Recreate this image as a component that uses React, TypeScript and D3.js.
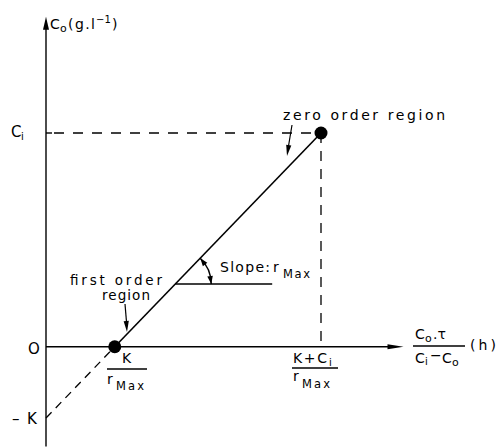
import React from 'react';
import * as d3 from 'd3';

// Schematic values (units: K = 1)
const K = 1;
const Ci = 3;
const rMax = 1;
const pointX = [K / rMax, (K + Ci) / rMax]; // first-order point, zero-order point
const pointY = [0, Ci];
const extrapX = [0, K / rMax];
const extrapY = [-K, 0];
const xAxisEnd = 5.2;
const yAxisTop = 4.63;
const yAxisBottom = -1.4;
const slopeRefY = 0.88;
const slopeRefXEnd = 3.29;

const W = 500;
const H = 447;
const FONT = 'DejaVu Sans, sans-serif';

const x = d3.scaleLinear().domain([0, 4]).range([46, 321]);
const y = d3.scaleLinear().domain([-1, 3]).range([418, 133]);

function arrowHead(tx: number, ty: number, angle: number, len = 11, half = 3.2) {
  const bx = tx - len * Math.cos(angle);
  const by = ty - len * Math.sin(angle);
  const px = -Math.sin(angle) * half;
  const py = Math.cos(angle) * half;
  return `M${tx},${ty}L${bx + px},${by + py}L${bx - px},${by - py}Z`;
}

export default function App() {
  const line = d3.line<[number, number]>().x((d) => x(d[0])).y((d) => y(d[1]));
  const solid: [number, number][] = pointX.map((v, i) => [v, pointY[i]]);
  const dashed: [number, number][] = extrapX.map((v, i) => [v, extrapY[i]]);

  const x0 = x(0);
  const y0 = y(0);
  const xEnd = x(xAxisEnd);
  const yTop = y(yAxisTop);

  const slopeX0 = x(pointX[0] + slopeRefY * (pointX[1] - pointX[0]) / (pointY[1] - pointY[0]));
  const slopeY = y(slopeRefY);
  const angleLine = Math.atan2(y(pointY[1]) - y(pointY[0]), x(pointX[1]) - x(pointX[0]));
  const R = 36;
  const a1 = angleLine;
  const arcStart: [number, number] = [slopeX0 + R * Math.cos(a1), slopeY + R * Math.sin(a1)];
  const arcEnd: [number, number] = [slopeX0 + R, slopeY];
  const arcPath = `M${arcStart[0]},${arcStart[1]}A${R},${R} 0 0 1 ${arcEnd[0]},${arcEnd[1]}`;

  const stroke = '#000';
  const fs = 14;

  return (
    <svg
      width={W}
      height={H}
      viewBox={`0 0 ${W} ${H}`}
      style={{ position: 'absolute', left: 0, top: 0, background: '#fff' }}
      fontFamily={FONT}
    >
      <rect x={0} y={0} width={W} height={H} fill="#fff" />
      {/* Axes */}
      <line x1={x0} y1={y(yAxisBottom)} x2={x0} y2={yTop + 8} stroke={stroke} strokeWidth={1.4} />
      <path d={arrowHead(x0, yTop, -Math.PI / 2, 13, 3)} fill={stroke} />
      <line x1={x0} y1={y0} x2={xEnd - 8} y2={y0} stroke={stroke} strokeWidth={1.4} />
      <path d={arrowHead(xEnd, y0, 0, 16, 2.6)} fill={stroke} />

      {/* Ci guide lines */}
      <line x1={x0} y1={y(Ci)} x2={x0 + 6} y2={y(Ci)} stroke={stroke} strokeWidth={1.4} />
      <line x1={x0 + 8} y1={y(Ci)} x2={x(pointX[1])} y2={y(Ci)} stroke={stroke} strokeWidth={1.3} strokeDasharray="10,9" />
      <line x1={x(pointX[1])} y1={y(Ci)} x2={x(pointX[1])} y2={y0} stroke={stroke} strokeWidth={1.3} strokeDasharray="10,8" />

      {/* Lines */}
      <path d={line(dashed) || ''} fill="none" stroke={stroke} strokeWidth={1.3} strokeDasharray="8,6" />
      <path d={line(solid) || ''} fill="none" stroke={stroke} strokeWidth={1.6} />

      {/* Points */}
      {solid.map((d, i) => (
        <circle key={i} cx={x(d[0])} cy={y(d[1])} r={6.5} fill={stroke} />
      ))}

      {/* Slope annotation */}
      <line x1={slopeX0} y1={slopeY} x2={x(slopeRefXEnd)} y2={slopeY} stroke={stroke} strokeWidth={1.4} />
      <path d={arcPath} fill="none" stroke={stroke} strokeWidth={1.4} />
      <path d={arrowHead(arcStart[0], arcStart[1], a1 - Math.PI / 2 + 0.15, 8, 2.8)} fill={stroke} />
      <path d={arrowHead(arcEnd[0], arcEnd[1], Math.PI / 2 - 0.15, 8, 2.8)} fill={stroke} />
      <text x={220} y={272} fontSize={fs} textLength={50}>Slope:</text>
      <text x={273} y={272} fontSize={fs}>r</text>
      <text x={283} y={278} fontSize={11.5} textLength={27}>Max</text>

      {/* Y-axis label */}
      <text x={50} y={29} fontSize={fs}>C</text>
      <text x={60} y={32} fontSize={11}>o</text>
      <text x={68} y={29} fontSize={fs} textLength={27}>(g.l</text>
      <text x={96} y={23} fontSize={10}>−1</text>
      <text x={112} y={29} fontSize={fs}>)</text>

      {/* Y tick labels */}
      <text x={11} y={137} fontSize={15}>C</text>
      <text x={21} y={140} fontSize={10}>i</text>
      <text x={28} y={354} fontSize={15}>O</text>
      <text x={12} y={424} fontSize={15}>–</text>
      <text x={27} y={424} fontSize={15}>K</text>

      {/* K / rMax */}
      <text x={122} y={363} fontSize={fs}>K</text>
      <line x1={107} y1={369} x2={147} y2={369} stroke={stroke} strokeWidth={1.3} />
      <text x={107} y={384} fontSize={fs}>r</text>
      <text x={116} y={390} fontSize={11.5} textLength={28}>Max</text>

      {/* (K + Ci) / rMax */}
      <text x={293} y={363} fontSize={fs} textLength={34}>K+C</text>
      <text x={329} y={366} fontSize={10}>i</text>
      <line x1={292} y1={368} x2={338} y2={368} stroke={stroke} strokeWidth={1.3} />
      <text x={293} y={381} fontSize={fs}>r</text>
      <text x={302} y={388} fontSize={11.5} textLength={28}>Max</text>

      {/* X-axis label */}
      <text x={415} y={339} fontSize={fs}>C</text>
      <text x={425} y={342} fontSize={11}>o</text>
      <text x={433} y={339} fontSize={fs}>.τ</text>
      <line x1={413} y1={346} x2={465} y2={346} stroke={stroke} strokeWidth={1.3} />
      <text x={415} y={363} fontSize={fs}>C</text>
      <text x={425} y={365} fontSize={10}>i</text>
      <text x={430} y={360} fontSize={fs}>−</text>
      <text x={442} y={363} fontSize={fs}>C</text>
      <text x={452} y={366} fontSize={11}>o</text>
      <text x={470} y={350} fontSize={fs} textLength={26}>(h)</text>

      {/* Region labels */}
      <text x={283} y={120} fontSize={fs} textLength={162}>zero order region</text>
      <line x1={292} y1={125} x2={288.5} y2={146} stroke={stroke} strokeWidth={1.2} />
      <path d={arrowHead(287, 156, Math.atan2(31, -5), 11, 2.6)} fill={stroke} />

      <text x={70} y={285} fontSize={13.5} textLength={92}>first order</text>
      <text x={102} y={300} fontSize={13.5} textLength={48}>region</text>
      <line x1={125} y1={304} x2={126.5} y2={322} stroke={stroke} strokeWidth={1.2} />
      <path d={arrowHead(127, 332, Math.atan2(29, 2), 11, 2.6)} fill={stroke} />
    </svg>
  );
}
